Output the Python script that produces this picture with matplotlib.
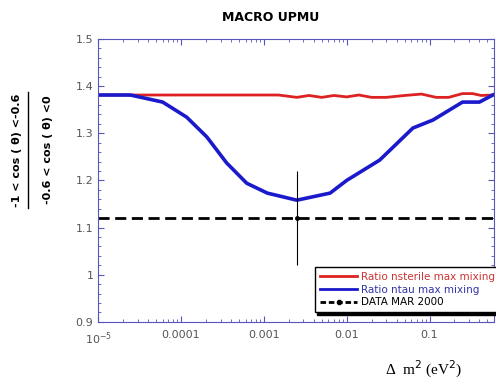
import matplotlib.pyplot as plt
from matplotlib.lines import Line2D
from matplotlib.ticker import FixedLocator, LogLocator, NullFormatter, MultipleLocator

# dati
dm2_blue = [1e-5, 2.45e-5, 6e-5, 1.17e-4, 2.05e-4, 3.55e-4, 6.2e-4, 1.1e-3,
            2.5e-3, 6.3e-3, 1e-2, 2.5e-2, 6.3e-2, 0.11, 0.25, 0.4, 0.58]
ratio_tau = [1.381, 1.381, 1.366, 1.334, 1.292, 1.237, 1.194, 1.173,
             1.158, 1.173, 1.20, 1.243, 1.311, 1.328, 1.366, 1.366, 1.381]

dm2_red = [1e-5, 1.5e-3, 2.5e-3, 3.5e-3, 5e-3, 7e-3, 1e-2, 1.4e-2, 2e-2,
           3e-2, 5e-2, 8e-2, 0.12, 0.17, 0.25, 0.33, 0.42, 0.58]
ratio_sterile = [1.381, 1.381, 1.376, 1.380, 1.376, 1.380, 1.377, 1.381, 1.376,
                 1.376, 1.380, 1.383, 1.376, 1.376, 1.384, 1.384, 1.380, 1.381]

data_x = [2.5e-3]
data_y = [1.12]
data_err = [0.1]

xticks = [1e-5, 1e-4, 1e-3, 1e-2, 1e-1]
xlabels = ["10$^{-5}$", "0.0001", "0.001", "0.01", "0.1"]
yticks = [0.9, 1.0, 1.1, 1.2, 1.3, 1.4, 1.5]
ylabels = ["0.9", "1", "1.1", "1.2", "1.3", "1.4", "1.5"]

fig = plt.figure(figsize=(4.96, 3.85), dpi=100)
ax = fig.add_axes([0.198, 0.164, 0.798, 0.735])

ax.plot(dm2_red, ratio_sterile, color="#dd2222", lw=2)
ax.plot(dm2_blue, ratio_tau, color="#1a1acc", lw=2.6)
ax.axhline(data_y[0], color="black", lw=2, ls=(0, (4, 2)))
ax.errorbar(data_x, data_y, yerr=data_err, color="black", lw=0.8, fmt="o", ms=2.5)

ax.set_xscale("log")
ax.set_xlim(1e-5, 0.6)
ax.set_ylim(0.9, 1.5)
ax.xaxis.set_major_locator(FixedLocator(xticks))
ax.set_xticklabels(xlabels)
ax.xaxis.set_minor_locator(LogLocator(base=10, subs=range(2, 10)))
ax.xaxis.set_minor_formatter(NullFormatter())
ax.set_yticks(yticks)
ax.set_yticklabels(ylabels)
ax.yaxis.set_minor_locator(MultipleLocator(0.02))

for s in ax.spines.values():
    s.set_color("#5555bb")
    s.set_linewidth(0.8)
ax.tick_params(which="both", direction="in", top=True, right=True, colors="#5555bb",
               labelcolor="#555555", labelsize=8)
ax.tick_params(which="major", length=4)
ax.tick_params(which="minor", length=2)
ax.tick_params(axis="x", pad=6)

handles = [Line2D([], [], color="#dd2222", lw=2),
           Line2D([], [], color="#1a1acc", lw=2),
           Line2D([], [], color="black", lw=2, ls=(0, (2, 1)), marker="o", ms=3)]
labels = ["Ratio nsterile max mixing", "Ratio ntau max mixing", "DATA MAR 2000"]
leg = ax.legend(handles, labels, loc="lower right", bbox_to_anchor=(1.03, 0.015),
                fontsize=7.5, fancybox=False, shadow={"color": "black", "alpha": 1},
                edgecolor="black", framealpha=1, handlelength=3.6, borderpad=0.5,
                labelspacing=0.25, handletextpad=0.4)
for t, c in zip(leg.get_texts(), ["#cc3333", "#3333aa", "black"]):
    t.set_color(c)

fig.text(0.545, 0.955, "MACRO UPMU", ha="center", va="center", fontsize=9,
         fontweight="bold")
fig.text(0.855, 0.04, "Δ  m$^2$ (eV$^2$)", ha="center", va="center", fontsize=11,
         family="Liberation Serif")

# etichetta asse y come frazione
fig.text(0.035, 0.61, "-1 < cos ( θ) <-0.6", rotation=90, ha="center", va="center",
         fontsize=8, fontweight="bold")
fig.text(0.097, 0.61, "-0.6 < cos ( θ) <0", rotation=90, ha="center", va="center",
         fontsize=8, fontweight="bold")
fig.add_artist(Line2D([0.057, 0.057], [0.46, 0.76], color="black", lw=1,
                      transform=fig.transFigure))

fig.savefig("out.png", dpi=100)
